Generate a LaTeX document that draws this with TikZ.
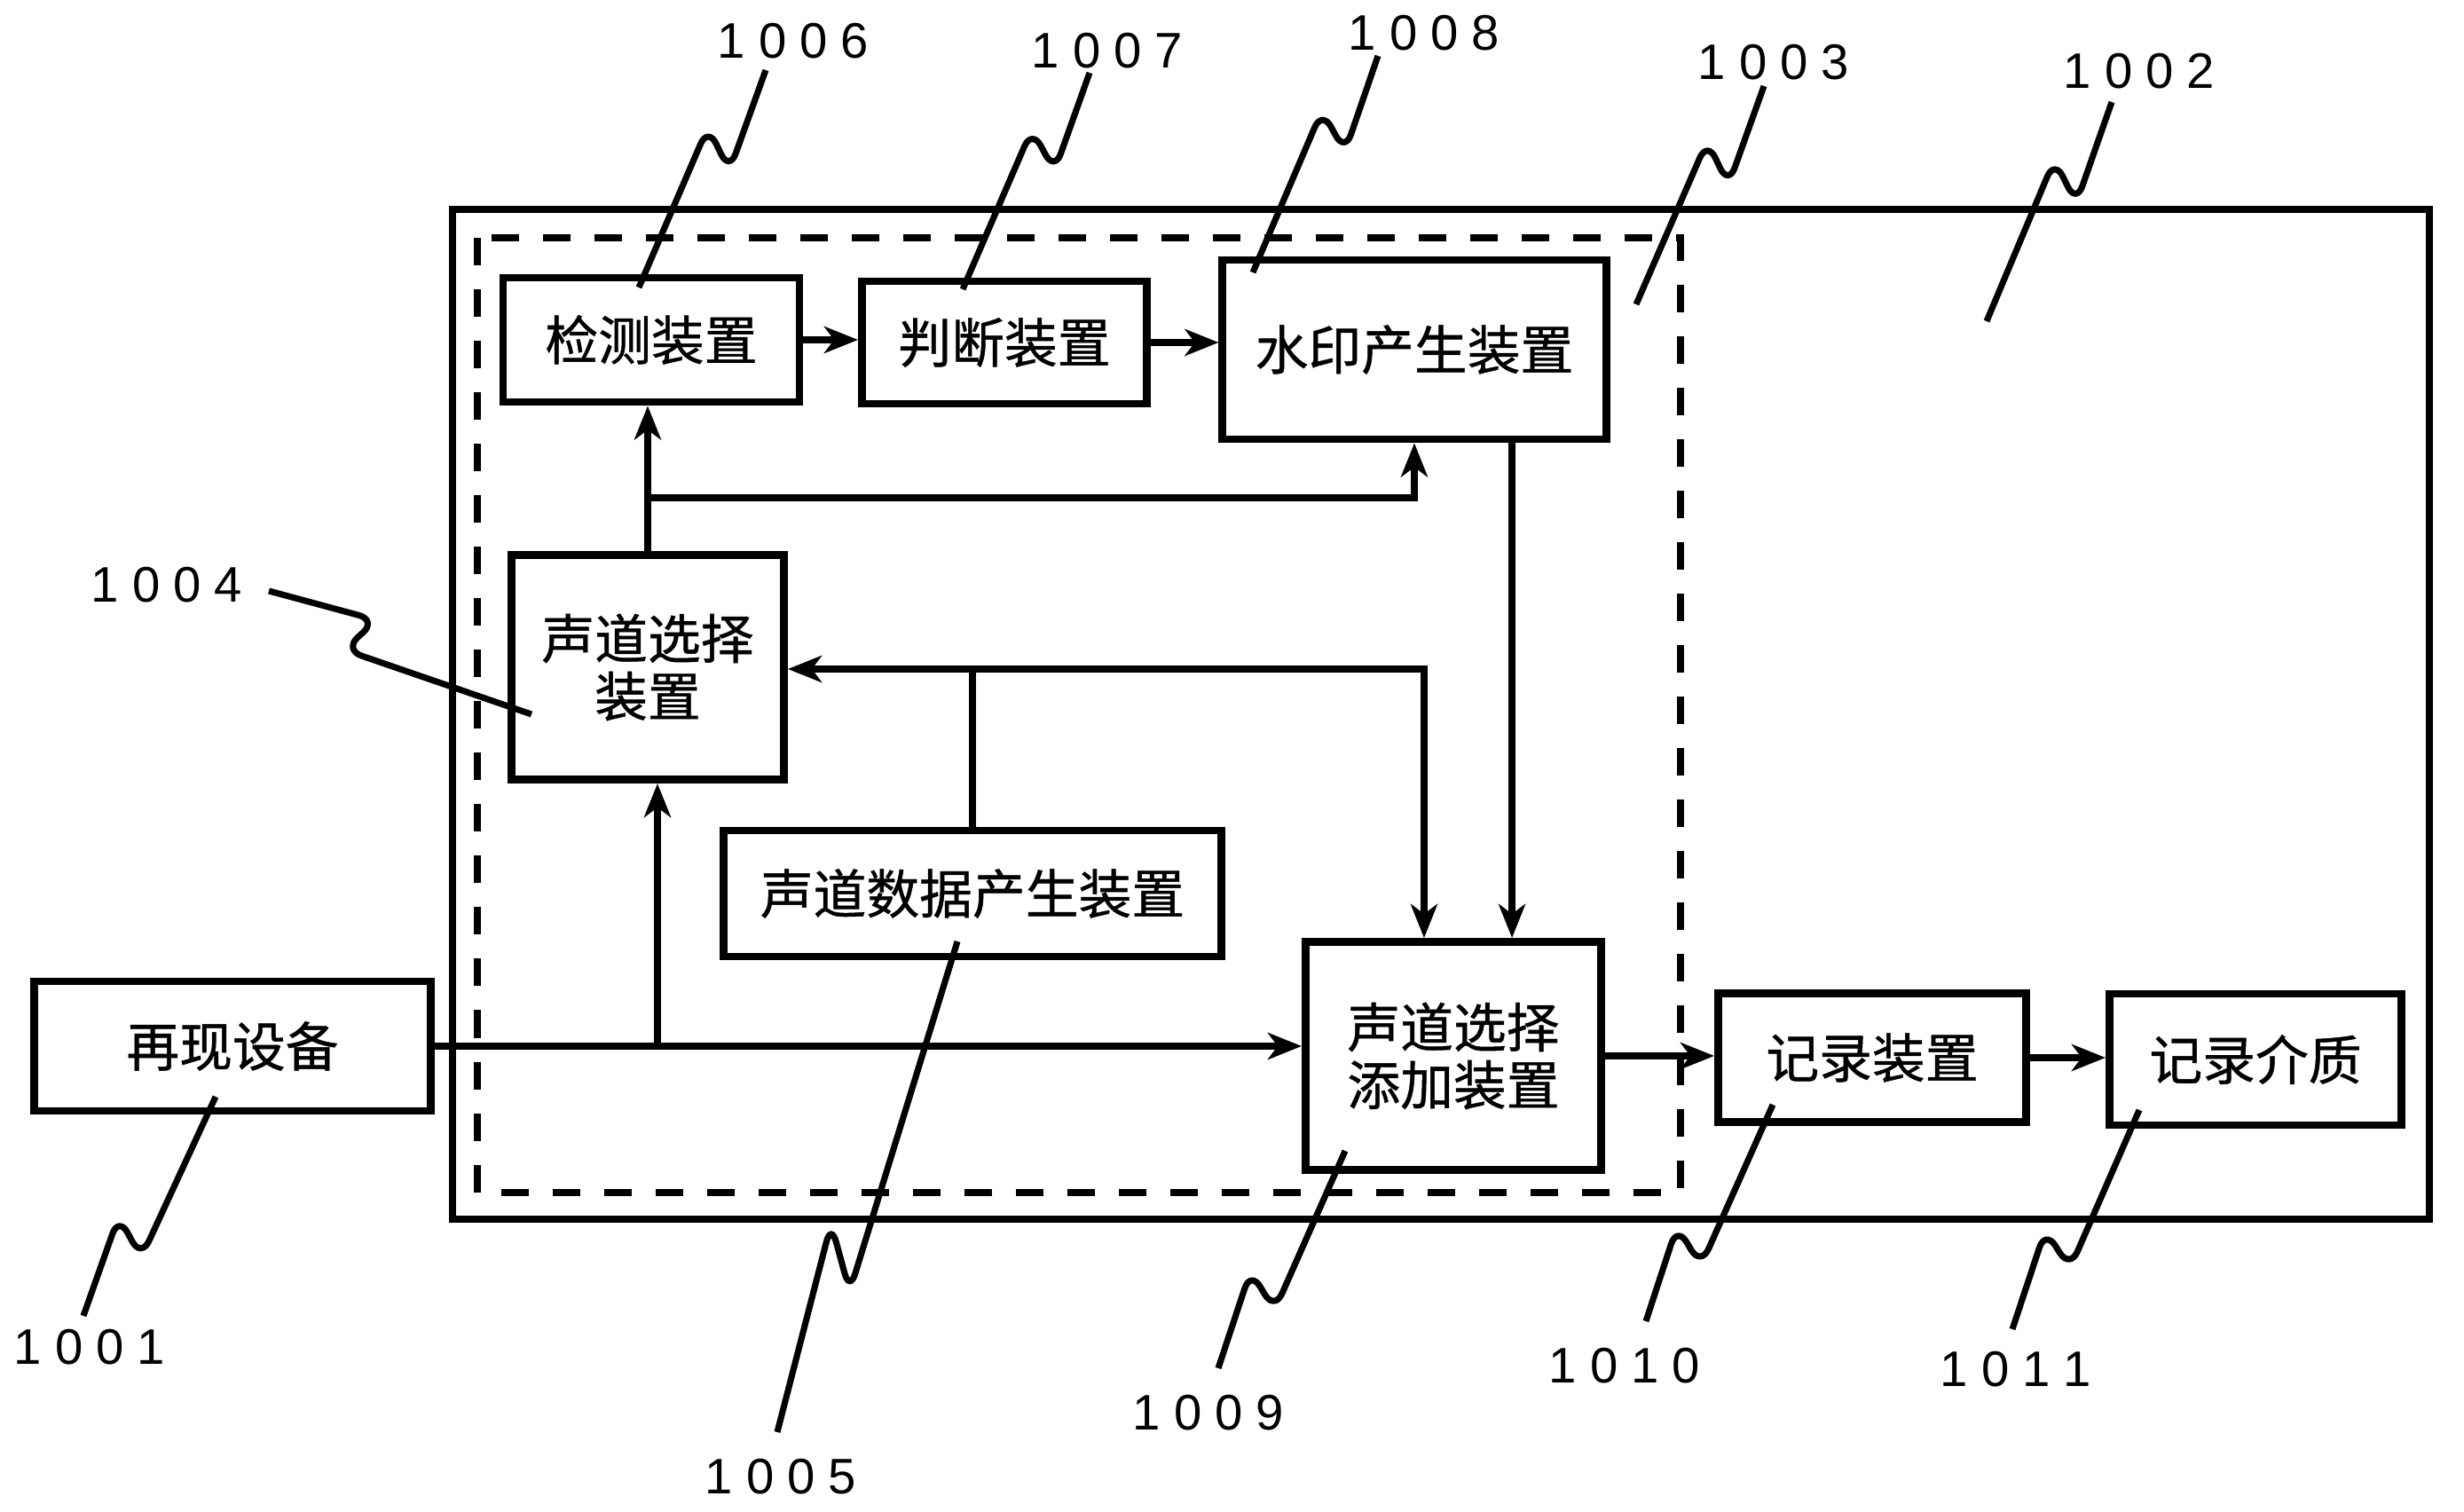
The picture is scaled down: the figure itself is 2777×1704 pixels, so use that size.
\documentclass[tikz,border=0pt]{standalone}
\usepackage{fontspec}
\newfontfamily\cjk[FakeBold=0.8]{Noto Sans CJK SC}
\newfontfamily\numfam{Liberation Sans}
\usetikzlibrary{arrows.meta,calc}

\tikzset{
  unit/.style={draw, line width=2.5pt, inner sep=0pt, align=center,
    font=\cjk\fontsize{17}{18.5}\selectfont},
  refno/.style={inner sep=0pt,
    font={\numfam\fontsize{16}{18}\selectfont\spaceskip=0.15cm\relax}},
  line/.style={line width=2.1pt},
  arr/.style={line width=2.1pt, -{Stealth[length=3.8mm,width=3mm,inset=1.1mm]}},
  leader/.style={line width=2pt, rounded corners=6pt},
}

% leader with a small hook: start, end, fraction of the low point, fraction of the peak
\newcommand{\squig}[4]{%
  \coordinate (sqa) at ($(#1)!#3!(#2)$);
  \coordinate (sqb) at ($(#1)!#4!(#2)$);
  \draw[leader] (#1) -- ($(sqa)!0.22cm!90:(#2)$) -- ($(sqb)!0.24cm!-90:(#2)$) -- (#2);
}

\begin{document}
\begin{tikzpicture}[x=0.01cm, y=-0.01cm]
  \useasboundingbox (0,0) rectangle (2777,1704);

  % frames 1002 and 1003
  \draw[line width=2.5pt] (510,236) rectangle (2738,1374);
  \draw[line width=2pt, dash pattern=on 0.31cm off 0.27cm] (538,268) rectangle (1894,1344);

  \node[unit, minimum width=3.34cm, minimum height=1.40cm] at (734,383) (detect) {检测装置};
  \node[unit, minimum width=3.21cm, minimum height=1.38cm] at (1132,386) (judge) {判断装置};
  \node[unit, minimum width=4.32cm, minimum height=2.02cm] at (1594,394) (wm) {水印产生装置};
  \node[unit, minimum width=3.07cm, minimum height=2.53cm] at (730,752) (sel) {声道选择\\装置};
  \node[unit, minimum width=5.60cm, minimum height=1.42cm] at (1096,1007) (data) {声道数据产生装置};
  \node[unit, minimum width=3.33cm, minimum height=2.57cm] at (1638,1190) (add) {声道选择\\添加装置};
  \node[unit, minimum width=4.47cm, minimum height=1.46cm] at (262,1179) (redev) {再现设备};
  \node[unit, minimum width=3.47cm, minimum height=1.45cm] at (2110,1192) (rec) {记录装置};
  \node[unit, minimum width=3.29cm, minimum height=1.48cm] at (2542,1194) (med) {记录介质};

  \coordinate (j1) at (730,561);
  \coordinate (j2) at (741,1181);
  \coordinate (j3) at (1096,754);
  \coordinate (addin) at ([xshift=-0.33cm]add.north);
  \coordinate (wmout) at ([xshift=1.1cm]wm.south);

  \draw[arr] (detect.east) -- (detect.east -| judge.west);
  \draw[arr] (judge.east) -- (judge.east -| wm.west);
  \draw[arr] (sel.north) -- (sel.north |- detect.south);
  \draw[arr] (j1) -| (wm.south);
  \draw[arr] (redev.east) -- (redev.east -| add.west);
  \draw[arr] (j2) -- (j2 |- sel.south);
  \draw[line] (data.north) -- (j3);
  \draw[arr] (j3) -- (j3 -| sel.east);
  \draw[arr] (j3) -| (addin);
  \draw[arr] (wmout) -- (wmout |- add.north);
  \draw[arr] (add.east) -- (add.east -| rec.west);
  \draw[arr] (rec.east) -- (rec.east -| med.west);

  % reference numbers
  \node[refno] at (894,46) (n1006) {1 0 0 6};
  \node[refno] at (1248,57) (n1007) {1 0 0 7};
  \node[refno] at (1605,37) (n1008) {1 0 0 8};
  \node[refno] at (1999,70) (n1003) {1 0 0 3};
  \node[refno] at (2411,80) (n1002) {1 0 0 2};
  \node[refno] at (188,659) (n1004) {1 0 0 4};
  \node[refno] at (101,1518) (n1001) {1 0 0 1};
  \node[refno] at (880,1664) (n1005) {1 0 0 5};
  \node[refno] at (1362,1592) (n1009) {1 0 0 9};
  \node[refno] at (1831,1539) (n1010) {1 0 1 0};
  \node[refno] at (2272,1543) (n1011) {1 0 1 1};

  \coordinate (s1006) at (863,79);    \coordinate (e1006) at (720,324);
  \coordinate (s1007) at (1228,82);   \coordinate (e1007) at (1085,326);
  \coordinate (s1008) at (1553,63);   \coordinate (e1008) at (1412,307);
  \coordinate (s1003) at (1988,97);   \coordinate (e1003) at (1844,343);
  \coordinate (s1002) at (2380,115);  \coordinate (e1002) at (2239,362);
  \coordinate (s1004) at (303,666);   \coordinate (e1004) at (599,805);
  \coordinate (s1001) at (243,1236);  \coordinate (e1001) at (94,1483);
  \coordinate (s1005) at (1079,1061); \coordinate (e1005) at (876,1614);
  \coordinate (s1009) at (1516,1297); \coordinate (e1009) at (1373,1542);
  \coordinate (s1010) at (1998,1245); \coordinate (e1010) at (1855,1489);
  \coordinate (s1011) at (2411,1251); \coordinate (e1011) at (2268,1498);

  \squig{s1006}{e1006}{0.42}{0.31}
  \squig{s1007}{e1007}{0.41}{0.31}
  \squig{s1008}{e1008}{0.40}{0.30}
  \squig{s1003}{e1003}{0.41}{0.30}
  \squig{s1002}{e1002}{0.42}{0.31}
  \squig{s1004}{e1004}{0.38}{0.32}
  \squig{s1001}{e1001}{0.69}{0.595}
  \squig{s1005}{e1005}{0.70}{0.59}
  \squig{s1009}{e1009}{0.69}{0.60}
  \squig{s1010}{e1010}{0.70}{0.61}
  \squig{s1011}{e1011}{0.68}{0.595}
\end{tikzpicture}
\end{document}
